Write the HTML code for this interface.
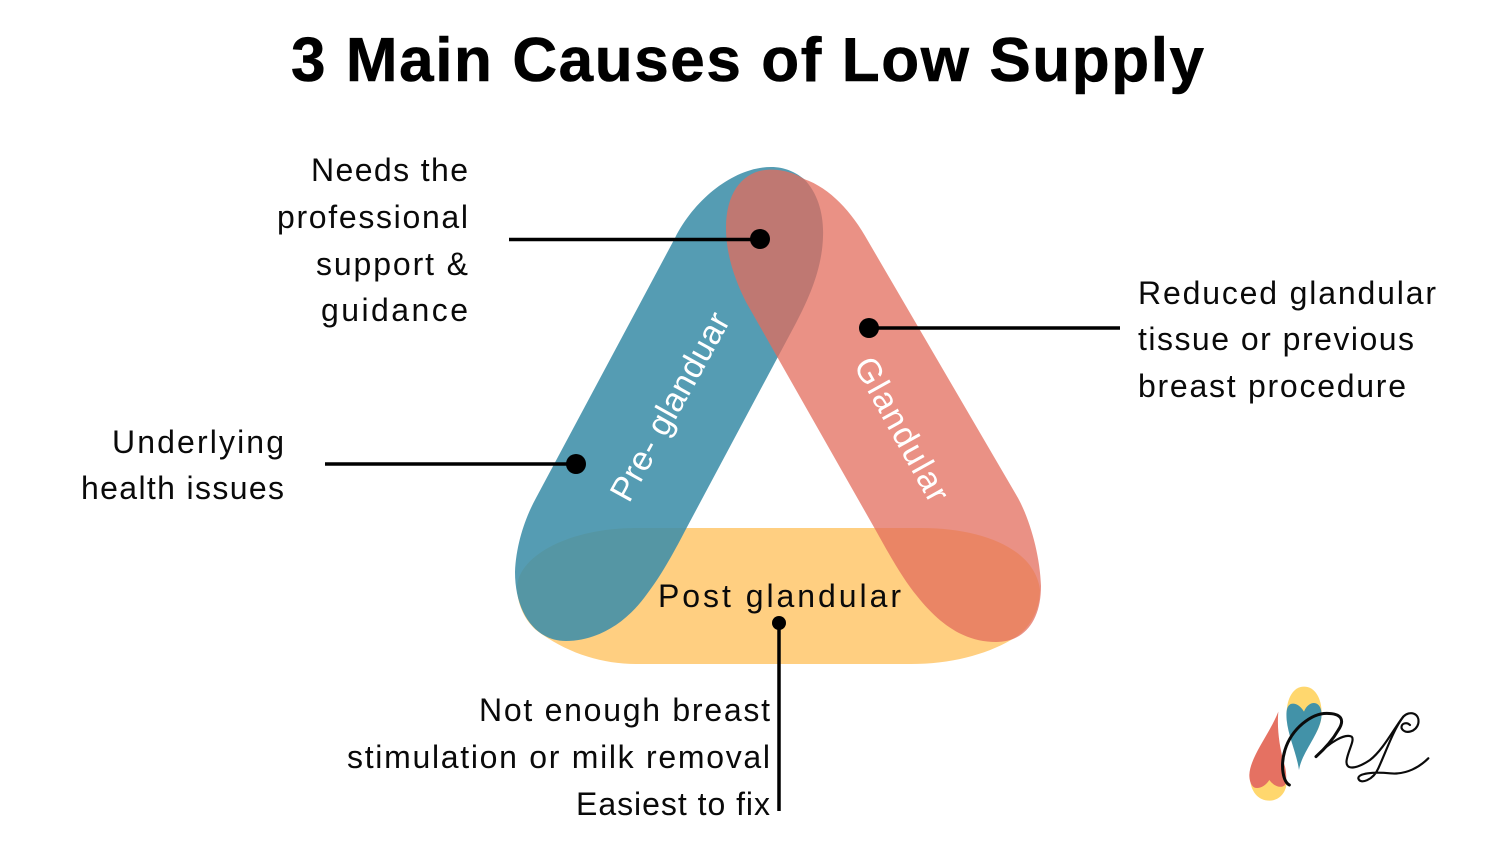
<!DOCTYPE html>
<html>
<head>
<meta charset="utf-8">
<style>
html,body{margin:0;padding:0;background:#fff;width:1500px;height:844px;overflow:hidden}
svg{display:block}
text{font-family:"Liberation Sans",sans-serif}
.l{font-size:32px;fill:#0a0a0a}
</style>
</head>
<body>
<svg width="1500" height="844" viewBox="0 0 1500 844" xmlns="http://www.w3.org/2000/svg">
<rect width="1500" height="844" fill="#fff"/>
<text x="291" y="81" font-size="62" font-weight="700" fill="#000" stroke="#000" stroke-width=".6" textLength="913" lengthAdjust="spacing">3 Main Causes of Low Supply</text>

<path fill="#FFCF81" d="M636,528 H921 C985,528 1035,550 1040,590 C1040,610 1030,630 1011,640 C985,655 950,664 911,664 H636 C600,664 565,652 536,630 C525,620 517,605 517,586 C520,555 570,528 636,528 Z"/>
<path fill="#3E8EA8" fill-opacity=".88" d="M771,167 C785,167 795,172 804,179 C818,193 824,215 823,237 C822,270 808,300 796,323 L686,529 C672,556 660,577 647,594 C625,625 595,641 566,641 C535,641 515,612 515,572 C516,545 525,518 536,498 L675,238 C695,198 735,167 771,167 Z"/>
<path fill="#E36C5C" fill-opacity=".75" d="M771,169.6 C745,169.6 726,190 726,228 C726,255 735,280 746,302 L875,529 C890,556 903,579 917,596 C940,625 965,642 996,642 C1025,642 1041,620 1041,586 C1040,555 1030,520 1018,498 L868,241 C852,212 830,188 804,179 C795,173 783,169.6 771,169.6 Z"/>

<text transform="translate(629,504) rotate(-61)" font-size="34" fill="#fff" textLength="210" lengthAdjust="spacing">Pre- glanduar</text>
<text transform="translate(853,365) rotate(61)" font-size="34" fill="#fff" textLength="160" lengthAdjust="spacing">Glandular</text>
<text x="658" y="607" class="l" textLength="243" lengthAdjust="spacing">Post glandular</text>

<g stroke="#000" stroke-width="3.5" fill="none">
<path d="M509,239.5 H760"/>
<path d="M869,328 H1120"/>
<path d="M325,464 H576"/>
<path d="M779,623 V811"/>
</g>
<circle cx="760" cy="239" r="10"/>
<circle cx="869" cy="328" r="10"/>
<circle cx="576" cy="464" r="10"/>
<circle cx="779" cy="623" r="7"/>

<text x="311" y="181" class="l" textLength="157" lengthAdjust="spacing">Needs the</text>
<text x="277" y="228" class="l" textLength="191" lengthAdjust="spacing">professional</text>
<text x="316" y="275" class="l" textLength="152" lengthAdjust="spacing">support &amp;</text>
<text x="321" y="321" class="l" textLength="147" lengthAdjust="spacing">guidance</text>

<text x="112" y="453" class="l" textLength="172" lengthAdjust="spacing">Underlying</text>
<text x="81" y="499" class="l" textLength="203" lengthAdjust="spacing">health issues</text>

<text x="1138" y="304" class="l" textLength="298" lengthAdjust="spacing">Reduced glandular</text>
<text x="1138" y="350" class="l" textLength="276" lengthAdjust="spacing">tissue or previous</text>
<text x="1138" y="397" class="l" textLength="268" lengthAdjust="spacing">breast procedure</text>

<text x="479" y="721" class="l" textLength="291" lengthAdjust="spacing">Not enough breast</text>
<text x="347" y="768" class="l" textLength="423" lengthAdjust="spacing">stimulation or milk removal</text>
<text x="576" y="815" class="l" textLength="194" lengthAdjust="spacing">Easiest to fix</text>

<g transform="translate(1230,670) scale(.3333)">
<path fill="#FFD76E" d="M222,50 C255,50 275,85 275,130 C275,170 250,210 222,230 C195,205 170,170 170,130 C170,85 190,50 222,50 Z"/>
<path fill="#4292A8" d="M222,125 C210,105 195,98 182,102 C170,108 168,125 170,150 C175,200 200,250 207,300 C215,250 262,200 273,150 C278,125 272,105 258,100 C245,96 230,105 222,125 Z"/>
<path fill="#FFD76E" d="M60,320 C60,365 85,392 118,392 C150,392 170,365 170,335 L118,300 Z"/>
<path fill="#E57162" d="M145,125 C140,180 150,240 165,290 C170,310 170,335 165,345 C155,355 135,352 118,330 C105,350 85,358 72,352 C62,345 58,330 58,315 C60,260 120,190 145,125 Z"/>
<g fill="none" stroke="#0b0b0b" stroke-linecap="round">
<path stroke-width="9" d="M178,345 C160,335 150,290 165,240 C185,175 245,130 290,130 C335,130 345,150 325,180 C305,215 280,240 258,260"/>
<path stroke-width="6.5" d="M258,260 C300,215 345,190 365,200 C375,210 355,240 350,270 C345,300 375,300 420,270 C460,240 495,170 520,140 C540,120 570,130 565,160 C560,185 525,195 515,175 C512,160 530,155 540,165"/>
<path stroke-width="6.5" d="M520,140 C490,180 470,240 445,295 C430,330 390,345 385,325 C385,310 430,305 480,310 C530,315 570,290 595,265"/>
</g>
</g>
</svg>
</body>
</html>
